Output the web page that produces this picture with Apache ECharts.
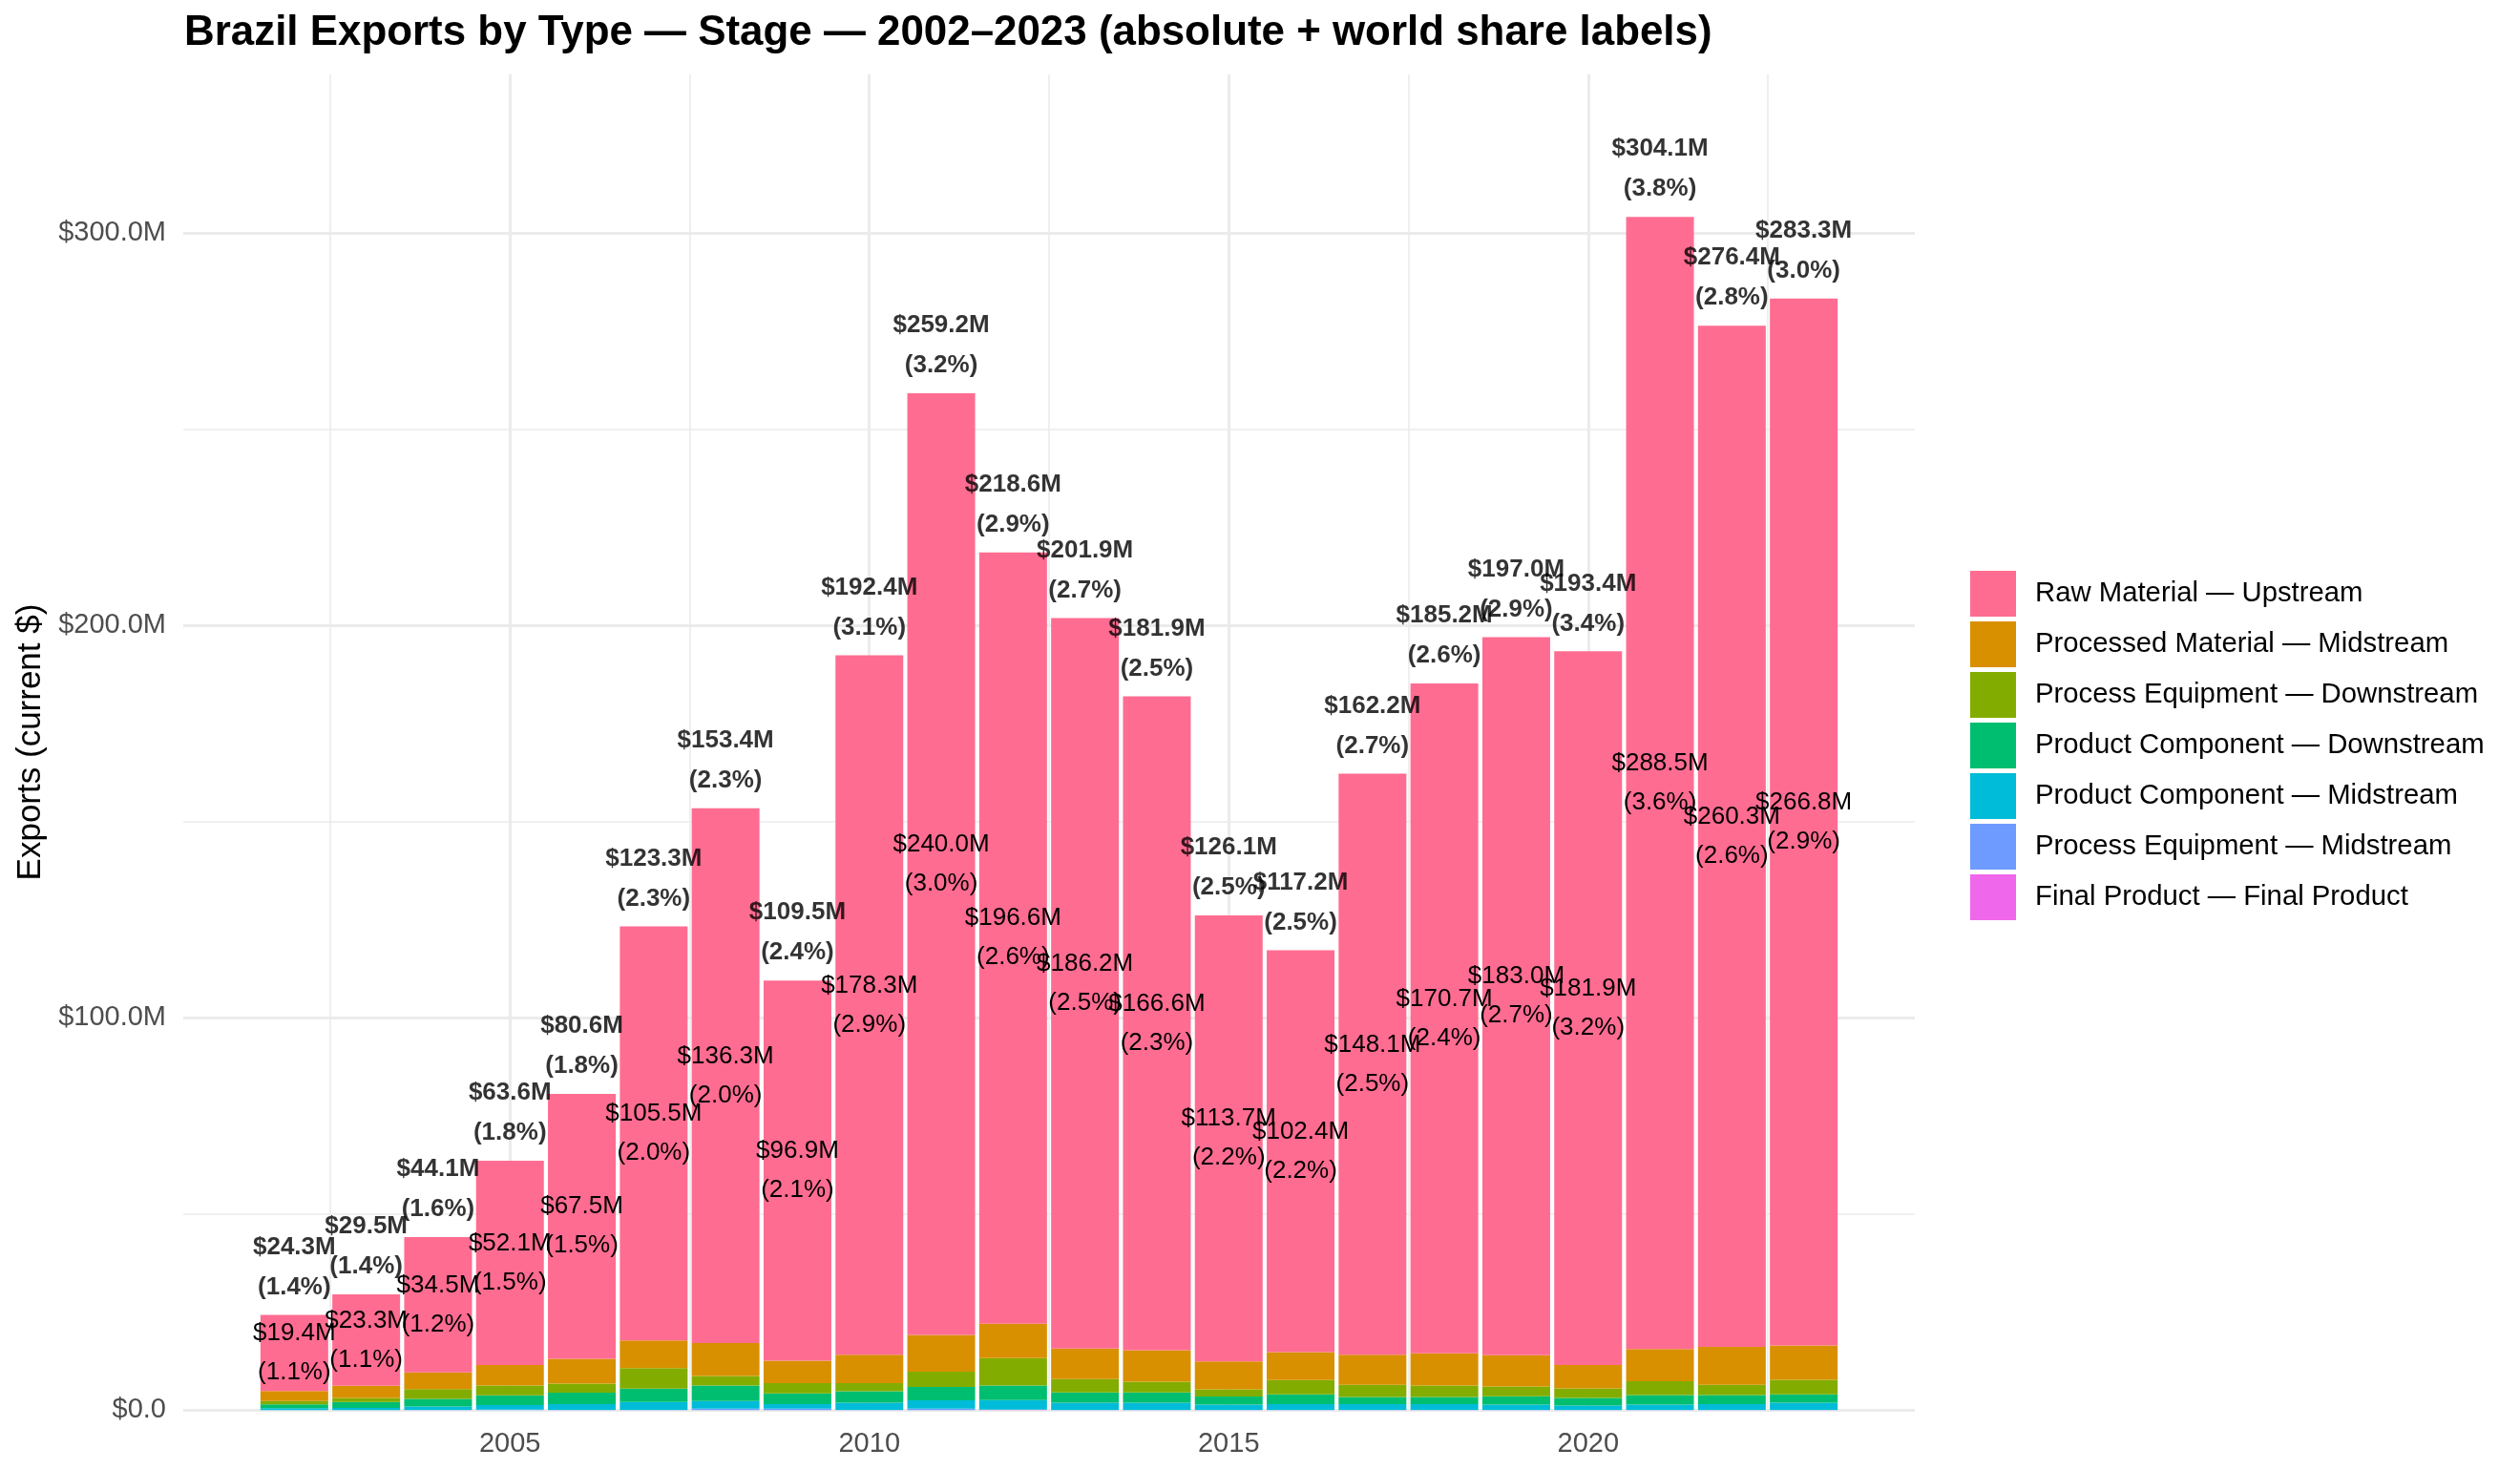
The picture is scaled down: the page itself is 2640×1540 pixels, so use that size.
<!DOCTYPE html>
<html>
<head>
<meta charset="utf-8">
<script src="https://cdn.jsdelivr.net/npm/echarts@6/dist/echarts.min.js"></script>
<style>
html,body{margin:0;padding:0;background:#fff;}
#chart{width:2640px;height:1540px;}
</style>
</head>
<body>
<div id="chart"></div>
<script>
// ---- data (values in $ millions) ----
const years = [2002,2003,2004,2005,2006,2007,2008,2009,2010,2011,2012,2013,2014,2015,2016,2017,2018,2019,2020,2021,2022,2023];
const totals      = [24.3,29.5,44.1,63.6,80.6,123.3,153.4,109.5,192.4,259.2,218.6,201.9,181.9,126.1,117.2,162.2,185.2,197.0,193.4,304.1,276.4,283.3];
const totalShares = [1.4,1.4,1.6,1.8,1.8,2.3,2.3,2.4,3.1,3.2,2.9,2.7,2.5,2.5,2.5,2.7,2.6,2.9,3.4,3.8,2.8,3.0];
const rawMaterialUpstream = [19.4,23.3,34.5,52.1,67.5,105.5,136.3,96.9,178.3,240.0,196.6,186.2,166.6,113.7,102.4,148.1,170.7,183.0,181.9,288.5,260.3,266.8];
const rawShares   = [1.1,1.1,1.2,1.5,1.5,2.0,2.0,2.1,2.9,3.0,2.6,2.5,2.3,2.2,2.2,2.5,2.4,2.7,3.2,3.6,2.6,2.9];
const processedMaterialMidstream = [2.55,3.1,4.25,5.2,6.35,7.1,8.4,5.7,7.2,9.4,8.75,7.8,8.05,7.1,7.1,7.65,8.25,7.95,5.95,8.2,9.65,8.75];
const processEquipmentDownstream = [0.85,1.0,2.45,2.5,2.3,5.2,2.45,2.6,2.1,3.9,7.0,3.4,2.75,1.8,3.7,3.1,2.9,2.5,2.45,3.55,2.6,3.75];
const productComponentDownstream = [1.0,1.55,1.95,2.5,2.9,3.4,3.9,2.75,2.9,3.4,3.7,2.6,2.6,2.1,2.45,1.8,1.8,2.15,1.95,2.45,2.3,2.1];
const productComponentMidstream  = [0.5,0.55,0.9,1.15,1.45,2.0,1.95,1.15,1.8,2.1,2.4,1.85,1.85,1.35,1.5,1.5,1.5,1.35,1.05,1.35,1.5,1.85];
const processEquipmentMidstream  = [0,0,0.05,0.15,0.1,0.1,0.4,0.4,0.1,0.4,0,0.05,0.05,0.05,0.05,0.05,0.05,0.05,0.1,0.05,0.05,0.05];
const finalProduct               = [0,0,0,0,0,0,0,0,0,0,0.15,0,0,0,0,0,0,0,0,0,0,0];

const seriesNames = [
  'Raw Material — Upstream',
  'Processed Material — Midstream',
  'Process Equipment — Downstream',
  'Product Component — Downstream',
  'Product Component — Midstream',
  'Process Equipment — Midstream',
  'Final Product — Final Product'
];
const seriesColors = ['#FF6C91','#D89000','#82AD00','#00BE70','#00BCD8','#6E9BFF','#EF67EB'];

const xMajorTicks = [2005,2010,2015,2020];
const xMinorTicks = [2002.5,2007.5,2012.5,2017.5,2022.5];
const yMajorTicks = [0,100,200,300];
const yMinorTicks = [50,150,250];
const yTickLabels = ['$0.0','$100.0M','$200.0M','$300.0M'];

// ---- chart ----
const FONT = '"Liberation Sans", Arial, Helvetica, sans-serif';
const chart = echarts.init(document.getElementById('chart'), null, {renderer:'canvas'});

// bottom-to-top stacking order
const order = [6,5,4,3,2,1,0];
const valuesByName = [
  rawMaterialUpstream, processedMaterialMidstream, processEquipmentDownstream,
  productComponentDownstream, productComponentMidstream, processEquipmentMidstream, finalProduct
];

const series = order.map(idx => {
  const s = {
    name: seriesNames[idx],
    type: 'bar',
    stack: 'total',
    xAxisIndex: 0,
    yAxisIndex: 0,
    barWidth: 71,
    itemStyle: {color: seriesColors[idx]},
    emphasis: {disabled: true},
    data: valuesByName[idx].slice()
  };
  if (idx === 0) {
    s.label = {
      show: true,
      position: 'inside',
      fontFamily: FONT,
      fontSize: 26,
      lineHeight: 41,
      color: '#000',
      textBorderWidth: 0,
      formatter: p => '$' + rawMaterialUpstream[p.dataIndex].toFixed(1) + 'M\n(' + rawShares[p.dataIndex].toFixed(1) + '%)'
    };
  }
  return s;
});

series.push({
  name: 'totals',
  type: 'scatter',
  xAxisIndex: 0,
  yAxisIndex: 0,
  symbolSize: 0,
  silent: true,
  z: 5,
  data: totals.slice(),
  label: {
    show: true,
    position: 'top',
    distance: 8,
    fontFamily: FONT,
    fontSize: 26,
    fontWeight: 'bold',
    lineHeight: 42,
    color: '#000',
    formatter: p => '$' + totals[p.dataIndex].toFixed(1) + 'M\n(' + totalShares[p.dataIndex].toFixed(1) + '%)'
  }
});

const XMIN = 2000.455, XMAX = 2024.545;
const YMIN = 0, YMAX = 340.5;

const option = {
  backgroundColor: '#fff',
  animation: false,
  title: {
    text: 'Brazil Exports by Type — Stage — 2002–2023 (absolute + world share labels)',
    left: 193,
    top: 13,
    padding: 0,
    textStyle: {fontFamily: FONT, fontSize: 43.9, fontWeight: 'bold', color: '#000', lineHeight: 44}
  },
  legend: {
    orient: 'vertical',
    left: 2064,
    top: 598,
    padding: 0,
    itemWidth: 48,
    itemHeight: 48,
    itemGap: 5,
    icon: 'rect',
    selectedMode: false,
    data: seriesNames,
    textStyle: {fontFamily: FONT, fontSize: 29.3, color: '#000', padding: [0,0,0,15]}
  },
  grid: [
    { // bars (category bands matching the continuous year scale)
      left: 270.7, right: 712.7, top: 77.7, bottom: 62.7,
      containLabel: false, outerBoundsMode: 'none'
    },
    { // panel with grid lines and axis labels
      left: 192, right: 634, top: 77.7, bottom: 62.7,
      containLabel: false, outerBoundsMode: 'none'
    }
  ],
  xAxis: [
    {
      gridIndex: 0, type: 'category', data: years, boundaryGap: true, show: false
    },
    {
      gridIndex: 1, type: 'value', min: XMIN, max: XMAX,
      axisLine: {show: false},
      axisTick: {show: false, customValues: xMajorTicks},
      axisLabel: {customValues: xMajorTicks, fontFamily: FONT, fontSize: 29, lineHeight: 29, color: '#4D4D4D', margin: 21,
                  formatter: v => String(v)},
      splitLine: {show: true, lineStyle: {color: '#EBEBEB', width: 3}}
    },
    {
      gridIndex: 1, type: 'value', min: XMIN, max: XMAX, position: 'bottom',
      axisLine: {show: false},
      axisTick: {show: false, customValues: xMinorTicks},
      axisLabel: {show: false, customValues: xMinorTicks},
      splitLine: {show: true, lineStyle: {color: '#EBEBEB', width: 1.6}}
    }
  ],
  yAxis: [
    {
      gridIndex: 0, type: 'value', min: YMIN, max: YMAX, show: false
    },
    {
      gridIndex: 1, type: 'value', min: YMIN, max: YMAX,
      name: 'Exports (current $)',
      nameLocation: 'middle',
      nameGap: 140,
      nameTextStyle: {fontFamily: FONT, fontSize: 35, color: '#000'},
      axisLine: {show: false},
      axisTick: {show: false, customValues: yMajorTicks},
      axisLabel: {customValues: yMajorTicks, fontFamily: FONT, fontSize: 29, color: '#4D4D4D', margin: 18,
                  formatter: v => yTickLabels[yMajorTicks.indexOf(v)]},
      splitLine: {show: true, lineStyle: {color: '#EBEBEB', width: 3}}
    },
    {
      gridIndex: 1, type: 'value', min: YMIN, max: YMAX, position: 'left',
      axisLine: {show: false},
      axisTick: {show: false, customValues: yMinorTicks},
      axisLabel: {show: false, customValues: yMinorTicks},
      splitLine: {show: true, lineStyle: {color: '#EBEBEB', width: 1.6}}
    }
  ],
  series: series
};
chart.setOption(option);
</script>
</body>
</html>
